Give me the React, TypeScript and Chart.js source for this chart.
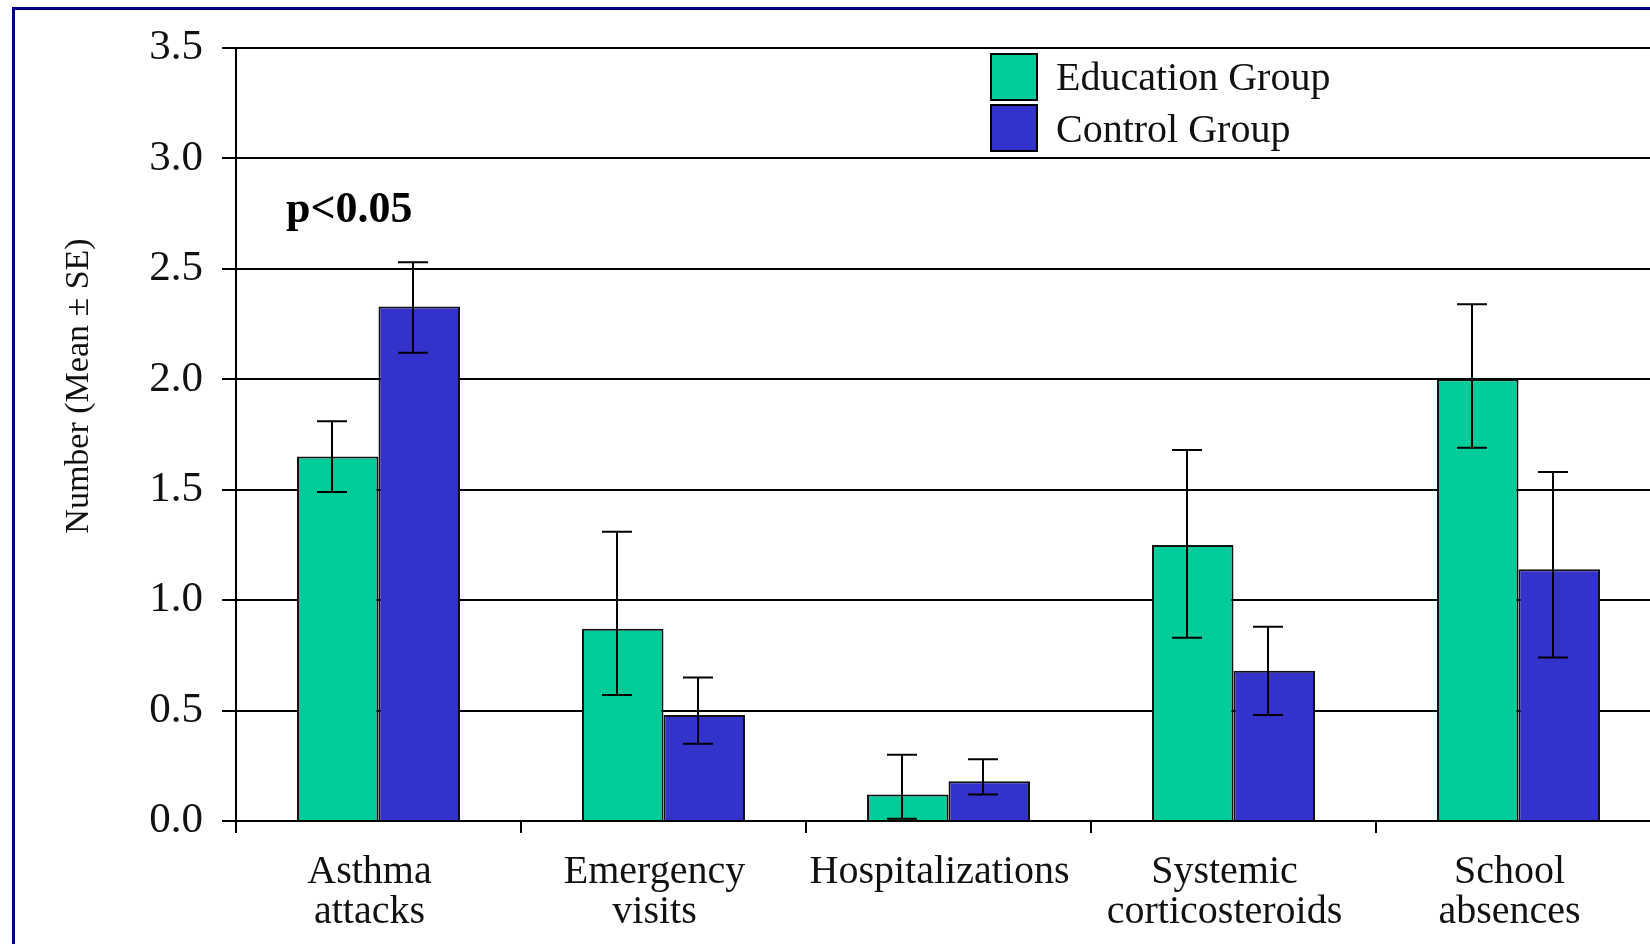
import React, { useEffect, useRef } from "react";
import { Chart, registerables } from "chart.js";

Chart.register(...registerables);

const categories: string[][] = [
  ["Asthma", "attacks"],
  ["Emergency", "visits"],
  ["Hospitalizations"],
  ["Systemic", "corticosteroids"],
  ["School", "absences"],
];
const seriesNames = ["Education Group", "Control Group"];
const educationMeans = [1.65, 0.87, 0.12, 1.25, 2.0];
const educationLow = [1.49, 0.57, 0.01, 0.83, 1.69];
const educationHigh = [1.81, 1.31, 0.3, 1.68, 2.34];
const controlMeans = [2.33, 0.48, 0.18, 0.68, 1.14];
const controlLow = [2.12, 0.35, 0.12, 0.48, 0.74];
const controlHigh = [2.53, 0.65, 0.28, 0.88, 1.58];
const yTicks = [0, 0.5, 1.0, 1.5, 2.0, 2.5, 3.0, 3.5];
const yTitle = "Number (Mean \u00b1 SE)";
const annotationText = "p<0.05";

const GREEN = "#00CC99";
const BLUE = "#3333CC";
const SERIF = "'Liberation Serif', 'Times New Roman', serif";

const errLows = [educationLow, controlLow];
const errHighs = [educationHigh, controlHigh];

const errorBarPlugin = {
  id: "errorBars",
  afterDatasetsDraw(chart: any) {
    const ctx = chart.ctx;
    const yScale = chart.scales.y;
    ctx.save();
    ctx.strokeStyle = "#000";
    ctx.lineWidth = 2;
    chart.data.datasets.forEach((_ds: any, i: number) => {
      const meta = chart.getDatasetMeta(i);
      meta.data.forEach((el: any, j: number) => {
        const x = Math.round(el.x - 6);
        const yl = yScale.getPixelForValue(errLows[i][j]);
        const yh = yScale.getPixelForValue(errHighs[i][j]);
        ctx.beginPath();
        ctx.moveTo(x, yl);
        ctx.lineTo(x, yh);
        ctx.moveTo(x - 15, yl);
        ctx.lineTo(x + 15, yl);
        ctx.moveTo(x - 15, yh);
        ctx.lineTo(x + 15, yh);
        ctx.stroke();
      });
    });
    ctx.restore();
  },
};

const decorPlugin = {
  id: "decor",
  afterDraw(chart: any) {
    const ctx = chart.ctx;
    const xScale = chart.scales.x;

    // category labels (drawn under the axis, slightly left of centre as in the source)
    ctx.save();
    ctx.fillStyle = "#111";
    ctx.font = `40px ${SERIF}`;
    ctx.textAlign = "center";
    ctx.textBaseline = "alphabetic";
    categories.forEach((lines, i) => {
      const x = xScale.getPixelForTick(i) - 9;
      lines.forEach((line, k) => {
        ctx.fillText(line, x, 883 + k * 40);
      });
    });
    ctx.restore();

    ctx.save();
    // y-axis title
    ctx.fillStyle = "#111";
    ctx.font = `34px ${SERIF}`;
    ctx.textAlign = "center";
    ctx.textBaseline = "middle";
    ctx.translate(79, 386);
    ctx.rotate(-Math.PI / 2);
    ctx.fillText(yTitle, 0, 0);
    ctx.restore();

    ctx.save();
    // annotation
    ctx.fillStyle = "#000";
    ctx.font = `bold 44px ${SERIF}`;
    ctx.textAlign = "left";
    ctx.textBaseline = "alphabetic";
    ctx.fillText(annotationText, 286, 222);

    // legend
    const colors = [GREEN, BLUE];
    const boxY = [54, 105];
    const textY = [90, 142];
    ctx.font = `40px ${SERIF}`;
    seriesNames.forEach((name, i) => {
      ctx.fillStyle = colors[i];
      ctx.fillRect(991, boxY[i], 46, 46);
      ctx.strokeStyle = "#000";
      ctx.lineWidth = 2;
      ctx.strokeRect(991, boxY[i], 46, 46);
      ctx.fillStyle = "#111";
      ctx.fillText(name, 1056, textY[i]);
    });
    ctx.restore();
  },
};

export default function App() {
  const canvasRef = useRef<HTMLCanvasElement | null>(null);

  useEffect(() => {
    if (!canvasRef.current) return;
    const chart = new Chart(canvasRef.current, {
      type: "bar",
      data: {
        labels: categories,
        datasets: [
          {
            label: seriesNames[0],
            data: educationMeans,
            backgroundColor: GREEN,
            borderColor: "#111",
            borderWidth: 2,
            categoryPercentage: 0.572,
            barPercentage: 1.0,
          },
          {
            label: seriesNames[1],
            data: controlMeans,
            backgroundColor: BLUE,
            borderColor: "#111",
            borderWidth: 2,
            categoryPercentage: 0.572,
            barPercentage: 1.0,
          },
        ],
      },
      options: {
        responsive: false,
        animation: false,
        devicePixelRatio: 1,
        layout: { padding: { left: 0, top: 48, right: 9, bottom: 0 } },
        plugins: {
          legend: { display: false },
          tooltip: { enabled: false },
          title: { display: false },
        },
        scales: {
          x: {
            type: "category",
            offset: true,
            grid: {
              display: true,
              offset: true,
              drawOnChartArea: false,
              drawTicks: true,
              tickLength: 12,
              color: "#000",
              lineWidth: 2,
            },
            border: { display: true, color: "#000", width: 2 },
            ticks: {
              display: false,
              autoSkip: false,
              maxRotation: 0,
            },
            afterFit: (scale: any) => {
              scale.height = 123;
            },
          },
          y: {
            min: 0,
            max: 3.5,
            afterBuildTicks: (scale: any) => {
              scale.ticks = yTicks.map((v) => ({ value: v }));
            },
            grid: {
              display: true,
              color: "#000",
              lineWidth: 2,
              drawTicks: true,
              tickLength: 14,
            },
            border: { display: true, color: "#000", width: 2 },
            ticks: {
              color: "#111",
              font: { family: SERIF, size: 43 },
              padding: 19,
              callback: (v: any) => Number(v).toFixed(1),
            },
            afterFit: (scale: any) => {
              scale.width = 236;
            },
          },
        },
      },
      plugins: [errorBarPlugin, decorPlugin],
    });
    return () => chart.destroy();
  }, []);

  return (
    <div
      style={{
        position: "fixed",
        left: 0,
        top: 0,
        width: 1650,
        height: 944,
        overflow: "hidden",
        background: "#fff",
      }}
    >
      <canvas
        ref={canvasRef}
        width={1670}
        height={944}
        style={{ position: "absolute", left: 0, top: 0, width: 1670, height: 944 }}
      />
      <div
        style={{
          position: "absolute",
          left: 12,
          top: 7,
          width: 3000,
          height: 3000,
          borderLeft: "3px solid #000080",
          borderTop: "3px solid #000080",
          pointerEvents: "none",
        }}
      />
    </div>
  );
}
